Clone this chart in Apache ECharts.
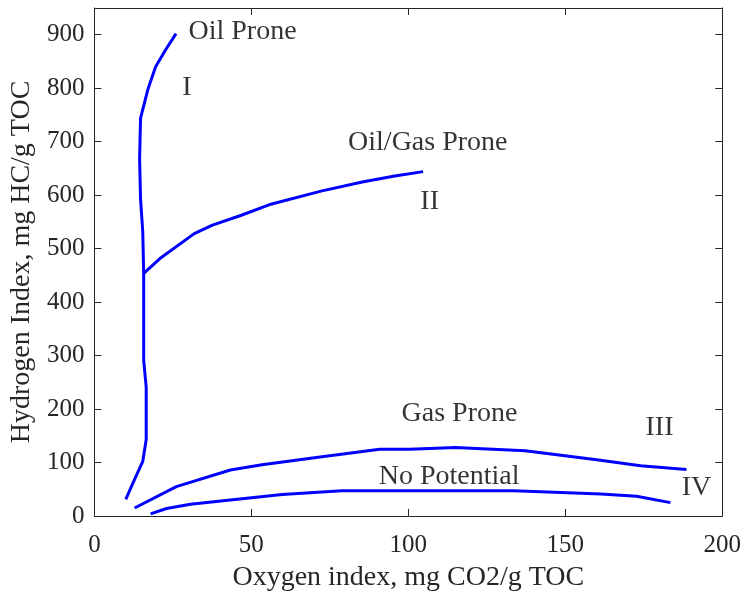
<!DOCTYPE html>
<html>
<head>
<meta charset="utf-8">
<script src="https://cdn.jsdelivr.net/npm/echarts@6/dist/echarts.min.js"></script>
<style>html,body{margin:0;padding:0;background:#fff}#c{width:744px;height:597px}</style>
</head>
<body>
<div id="c"></div>
<script>
// Type I kerogen (Oil Prone) boundary: [oxygen index, hydrogen index]
const typeI = [[26,902],[22.5,870],[19.5,840],[17,797],[14.7,744],[14.4,667],[14.7,593],[15.4,532],[15.7,454],[15.7,291],[16.5,241],[16.5,143],[15.4,102],[12.3,62],[10,31]];
// Type II kerogen (Oil/Gas Prone) branch
const typeII = [[15.8,454],[21.2,483],[31.8,528],[37.6,544],[46.6,562],[55.6,582],[72.5,608],[85.7,625],[95.7,636],[104.7,644]];
// Type III kerogen (Gas Prone)
const typeIII = [[12.8,15],[26.1,55],[43.3,86],[53.4,96],[72.5,111],[90.9,125],[100.4,125],[115,128],[137.2,122],[160,105],[174,94],[188.6,87]];
// Type IV (No Potential)
const typeIV = [[17.9,4],[23,14],[30.6,22],[43.3,30],[59.8,40],[78.8,47],[104.2,47],[133.4,47],[148.6,44],[161.3,41],[172.7,37],[183.5,25]];
// Region labels: [x, y, text]
const regionLabels = [[47.2,906,'Oil Prone'],[29.5,802,'I'],[106.2,699,'Oil/Gas Prone'],[106.8,588,'II'],[116.3,191,'Gas Prone'],[180,166,'III'],[113,73,'No Potential'],[191.8,53,'IV']];
const xTicks = [0,50,100,150,200];
const yTicks = [0,100,200,300,400,500,600,700,800,900];

const FONT = 'Liberation Serif';
const axisColor = '#262626';
const chart = echarts.init(document.getElementById('c'), null, {renderer:'canvas'});
const lineStyle = {color:'#0000FF', width:3};
function lineSeries(d){return {type:'line', data:d, showSymbol:false, symbol:'none', lineStyle:lineStyle, silent:true, animation:false, xAxisIndex:0, yAxisIndex:0};}
const baseAxisLine = {show:true, onZero:false, lineStyle:{color:axisColor, width:1}};
const tick = {inside:true, length:7, lineStyle:{color:axisColor, width:1}};
chart.setOption({
  animation:false,
  grid:{left:93, right:20, top:8, bottom:77, containLabel:false},
  xAxis:[
    {type:'value', min:0, max:200, interval:50, position:'bottom',
     name:'Oxygen index, mg CO2/g TOC', nameLocation:'middle', nameGap:48,
     nameTextStyle:{fontFamily:FONT, fontSize:28, color:'#262626'},
     axisLine:baseAxisLine, axisTick:Object.assign({customValues:xTicks}, tick),
     axisLabel:{fontFamily:FONT, fontSize:25, color:'#262626', margin:17, customValues:xTicks},
     splitLine:{show:false}},
    {type:'value', min:0, max:200, interval:50, position:'top',
     axisLine:baseAxisLine, axisTick:Object.assign({customValues:xTicks}, tick),
     axisLabel:{show:false}, splitLine:{show:false}}
  ],
  yAxis:[
    {type:'value', min:0, max:950, interval:100, position:'left',
     name:'Hydrogen Index, mg HC/g TOC', nameLocation:'middle', nameGap:52,
     nameTextStyle:{fontFamily:FONT, fontSize:28, color:'#262626'},
     axisLine:baseAxisLine,
     axisTick:Object.assign({customValues:yTicks}, tick),
     axisLabel:{fontFamily:FONT, fontSize:25, color:'#262626', margin:10, customValues:yTicks},
     splitLine:{show:false}},
    {type:'value', min:0, max:950, interval:100, position:'right',
     axisLine:baseAxisLine,
     axisTick:Object.assign({customValues:yTicks}, tick),
     axisLabel:{show:false}, splitLine:{show:false}}
  ],
  series:[
    lineSeries(typeI), lineSeries(typeII), lineSeries(typeIII), lineSeries(typeIV),
    {type:'scatter', symbolSize:0, data:regionLabels, silent:true,
     label:{show:true, position:'inside', formatter:p=>p.data[2], fontFamily:FONT, fontSize:28, color:'#000'}}
  ]
});
</script>
</body>
</html>
